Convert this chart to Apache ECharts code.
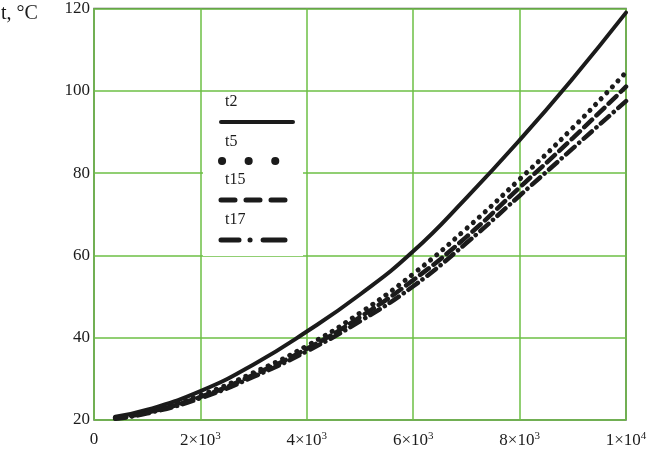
<!DOCTYPE html>
<html><head><meta charset="utf-8">
<script src="https://cdn.jsdelivr.net/npm/echarts@6/dist/echarts.min.js"></script>
<style>html,body{margin:0;padding:0;background:#fff}#c{width:654px;height:455px}</style>
</head><body><div id="c"></div>
<script>
const xValues = [400, 1000, 2000, 3000, 4000, 5000, 6000, 7000, 8000, 9000, 10000];
const t2  = [20.8, 22.5, 27.0, 33.5, 41.5, 50.5, 61.0, 74.0, 88.0, 103.0, 119.0];
const t5  = [20.5, 22.0, 26.0, 31.5, 38.0, 46.0, 55.5, 66.5, 78.5, 91.0, 104.5];
const t15 = [20.4, 21.8, 25.6, 31.0, 37.3, 45.0, 54.0, 64.5, 76.5, 88.5, 101.0];
const t17 = [20.3, 21.6, 25.3, 30.5, 36.7, 44.0, 52.5, 63.0, 74.5, 86.0, 97.5];
const seriesNames = ['t2', 't5', 't15', 't17'];
const yTicks = [20, 40, 60, 80, 100, 120];
const xTicks = [0, 2000, 4000, 6000, 8000, 10000];

const pair = arr => xValues.map((x, i) => [x, arr[i]]);
const ink = '#1b1b1b';
const serif = '"Liberation Serif", "DejaVu Serif", serif';

const chart = echarts.init(document.getElementById('c'), null, {renderer: 'canvas'});
const lineStyles = [
  {width: 4, type: 'solid', cap: 'round'},
  {width: 5, type: [0.1, 8], cap: 'round'},
  {width: 4.5, type: [11, 6], cap: 'round'},
  {width: 4.5, type: [11, 6, 0.1, 6], cap: 'round'}
];
const dataSets = [t2, t5, t15, t17];

chart.setOption({
  animation: false,
  backgroundColor: '#fff',
  grid: {left: 94, right: 28, top: 6, bottom: 35, show: true, borderColor: '#555', borderWidth: 1.5, backgroundColor: 'transparent'},
  xAxis: {
    type: 'value', min: 0, max: 10000, interval: 2000,
    axisLine: {show: false}, axisTick: {show: false},
    splitLine: {show: true, lineStyle: {color: '#6dbf45', width: 1.5}},
    axisLabel: {
      margin: 11, color: ink, fontFamily: serif, fontSize: 17,
      formatter: v => {
        if (v === 0) return '0';
        if (v === 10000) return '1×10{s|4}';
        return (v / 1000) + '×10{s|3}';
      },
      rich: {s: {fontSize: 11, verticalAlign: 'top', padding: [0, 0, 9, 0], fontFamily: serif, color: ink}}
    }
  },
  yAxis: {
    type: 'value', min: 20, max: 120, interval: 20,
    axisLine: {show: false}, axisTick: {show: false},
    splitLine: {show: true, lineStyle: {color: '#6dbf45', width: 1.5}},
    axisLabel: {margin: 4, color: ink, fontFamily: serif, fontSize: 17}
  },
  series: seriesNames.map((n, i) => ({
    name: n, type: 'line', smooth: true, symbol: 'none',
    data: pair(dataSets[i]),
    lineStyle: Object.assign({color: ink}, lineStyles[i])
  })),
  graphic: [
    {type: 'text', left: 1, top: 4, style: {text: 't, °C', font: '20px ' + serif, fill: ink}},
    {type: 'rect', shape: {x: 203, y: 92, width: 100, height: 164}, style: {fill: '#fff'}, z: 50},
    {type: 'text', x: 225, y: 94, z: 60, style: {text: 't2', font: '16px ' + serif, fill: ink}},
    {type: 'line', z: 60, shape: {x1: 221, y1: 122, x2: 293, y2: 122}, style: {stroke: ink, lineWidth: 4, lineCap: 'round'}},
    {type: 'text', x: 225, y: 134, z: 60, style: {text: 't5', font: '16px ' + serif, fill: ink}},
    {type: 'line', z: 60, shape: {x1: 222, y1: 161, x2: 280, y2: 161}, style: {stroke: ink, lineWidth: 8, lineCap: 'round', lineDash: [0.1, 26.5]}},
    {type: 'text', x: 225, y: 172, z: 60, style: {text: 't15', font: '16px ' + serif, fill: ink}},
    {type: 'line', z: 60, shape: {x1: 221, y1: 200, x2: 293, y2: 200}, style: {stroke: ink, lineWidth: 5, lineCap: 'round', lineDash: [14, 11]}},
    {type: 'text', x: 225, y: 212, z: 60, style: {text: 't17', font: '16px ' + serif, fill: ink}},
    {type: 'line', z: 60, shape: {x1: 221, y1: 240, x2: 285, y2: 240}, style: {stroke: ink, lineWidth: 5, lineCap: 'round', lineDash: [18, 11, 0.1, 13, 22, 40]}}
  ]
});
</script></body></html>
